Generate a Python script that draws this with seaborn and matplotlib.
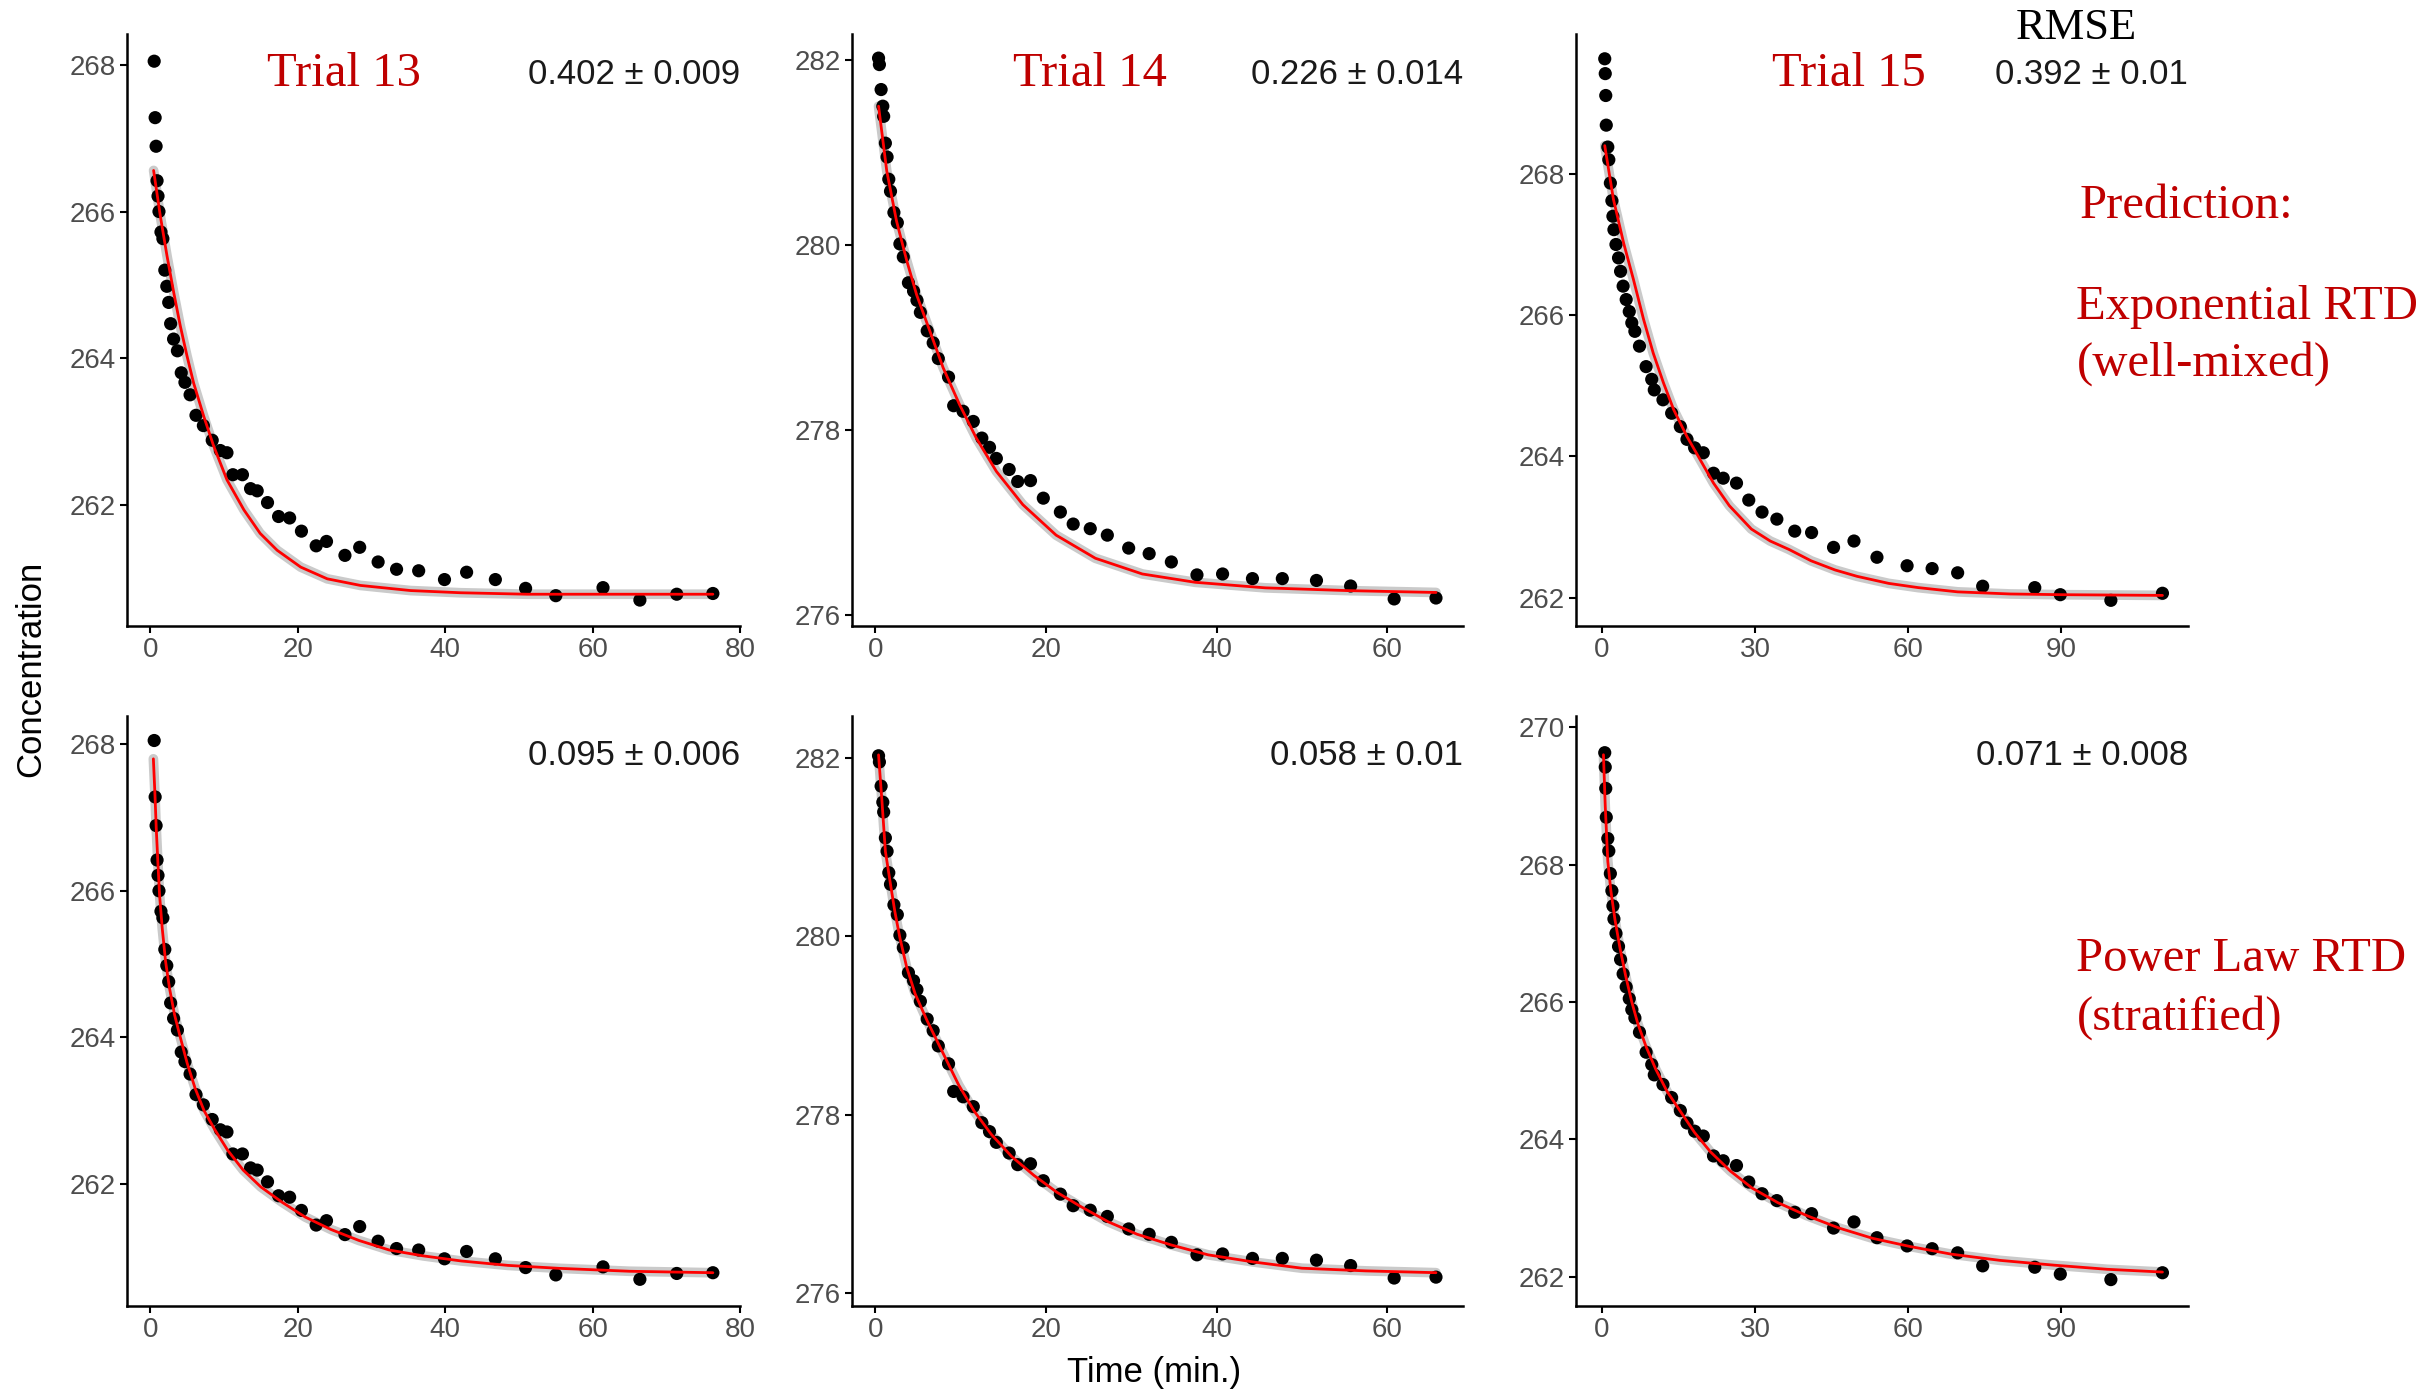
import matplotlib
matplotlib.use("Agg")
import matplotlib.pyplot as plt
import seaborn as sns
import pandas as pd

# ---------------- data ----------------
t13 = [0.53, 0.66, 0.79, 0.92, 1.05, 1.18, 1.45, 1.71, 1.97, 2.24, 2.5, 2.76, 3.16, 3.68, 4.2,
       4.7, 5.4, 6.2, 7.2, 8.4, 9.5, 10.4, 11.2, 12.5, 13.6, 14.5, 15.9, 17.4, 18.9, 20.5, 22.5,
       23.9, 26.4, 28.4, 30.9, 33.4, 36.4, 39.9, 42.9, 46.8, 50.9, 55.0, 61.4, 66.4, 71.4, 76.3]
c13 = [268.05, 267.28, 266.89, 266.42, 266.21, 266.00, 265.72, 265.63, 265.20, 264.98, 264.76,
       264.47, 264.26, 264.10, 263.80, 263.67, 263.50, 263.22, 263.08, 262.88, 262.74, 262.71,
       262.41, 262.41, 262.22, 262.19, 262.03, 261.84, 261.82, 261.64, 261.44, 261.50, 261.31,
       261.42, 261.22, 261.12, 261.10, 260.98, 261.08, 260.98, 260.86, 260.76, 260.87, 260.70,
       260.78, 260.79]

t14 = [0.4, 0.5, 0.7, 0.9, 1.0, 1.2, 1.4, 1.6, 1.8, 2.2, 2.6, 2.9, 3.3, 3.9, 4.5, 4.9, 5.3, 6.1,
       6.8, 7.4, 8.6, 9.2, 10.3, 11.5, 12.5, 13.4, 14.2, 15.7, 16.7, 18.2, 19.7, 21.7, 23.2, 25.2,
       27.2, 29.7, 32.1, 34.7, 37.7, 40.7, 44.2, 47.7, 51.7, 55.7, 60.8, 65.7]
c14 = [282.02, 281.95, 281.68, 281.50, 281.39, 281.10, 280.95, 280.71, 280.58, 280.35, 280.24,
       280.01, 279.87, 279.59, 279.50, 279.40, 279.27, 279.07, 278.94, 278.77, 278.57, 278.26,
       278.20, 278.09, 277.91, 277.81, 277.69, 277.57, 277.44, 277.45, 277.26, 277.11, 276.98,
       276.93, 276.86, 276.72, 276.66, 276.57, 276.43, 276.44, 276.39, 276.39, 276.37, 276.31,
       276.17, 276.18]

t15 = [0.6, 0.7, 0.8, 0.9, 1.2, 1.4, 1.7, 2.0, 2.2, 2.4, 2.8, 3.3, 3.7, 4.2, 4.8, 5.4, 5.9, 6.5,
       7.4, 8.7, 9.8, 10.3, 12.0, 13.7, 15.4, 16.7, 18.2, 19.9, 21.9, 23.8, 26.4, 28.8, 31.4,
       34.3, 37.8, 41.1, 45.4, 49.4, 53.9, 59.8, 64.7, 69.7, 74.6, 84.8, 89.8, 99.7, 109.8]
c15 = [269.63, 269.42, 269.11, 268.69, 268.38, 268.20, 267.87, 267.62, 267.40, 267.21, 267.00,
       266.81, 266.62, 266.41, 266.22, 266.05, 265.89, 265.77, 265.56, 265.27, 265.09, 264.94,
       264.80, 264.61, 264.42, 264.24, 264.12, 264.05, 263.76, 263.69, 263.62, 263.38, 263.21,
       263.11, 262.94, 262.92, 262.71, 262.80, 262.57, 262.45, 262.41, 262.35, 262.16, 262.14,
       262.04, 261.96, 262.06]

# exponential RTD prediction (top row)
e13_t = [0.45, 1.36, 2.26, 3.17, 4.07, 4.98, 5.88, 7.24, 8.6, 10.4, 12.7, 14.9, 17.2, 20.4,
         24.0, 28.5, 35.3, 42.1, 51.1, 64.0, 76.3]
e13_c = [266.56, 265.94, 265.40, 264.90, 264.44, 264.03, 263.66, 263.21, 262.80, 262.34, 261.93,
         261.61, 261.38, 261.15, 260.99, 260.90, 260.83, 260.80, 260.78, 260.78, 260.78]
e14_t = [0.4, 1.36, 2.5, 3.7, 4.86, 6.4, 7.97, 9.9, 11.85, 14.2, 17.3, 21.2, 25.8, 31.3, 37.5,
         45.7, 55.4, 65.7]
e14_c = [281.50, 280.80, 280.26, 279.83, 279.46, 279.07, 278.67, 278.27, 277.91, 277.55, 277.19,
         276.86, 276.61, 276.44, 276.35, 276.29, 276.26, 276.24]
e15_t = [0.6, 2.3, 4.3, 6.2, 8.2, 10.1, 12.1, 14.1, 16.7, 19.3, 21.9, 25.0, 29.3, 33.0, 36.7,
         41.0, 45.7, 50.0, 56.2, 62.0, 69.7, 80.0, 90.0, 109.8]
e15_c = [268.40, 267.64, 267.02, 266.51, 265.94, 265.46, 265.04, 264.66, 264.28, 263.95, 263.62,
         263.30, 262.97, 262.80, 262.68, 262.52, 262.39, 262.30, 262.20, 262.14, 262.08, 262.05,
         262.04, 262.03]

# power-law RTD prediction (bottom row)
p13_t = [0.42, 0.64, 0.81, 1.03, 1.26, 1.62, 2.07, 2.61, 3.29, 3.97, 5.0, 6.1, 7.3, 8.7, 10.5,
         12.6, 15.0, 17.9, 21.0, 24.5, 28.3, 32.4, 37.0, 42.2, 48.5, 55.4, 65.0, 76.3]
p13_c = [267.80, 267.30, 266.85, 266.39, 265.94, 265.49, 265.04, 264.67, 264.31, 264.04, 263.65,
         263.30, 263.00, 262.75, 262.46, 262.19, 261.96, 261.75, 261.55, 261.38, 261.23, 261.10,
         261.02, 260.95, 260.89, 260.85, 260.81, 260.79]
p14_t = [0.4, 0.8, 1.2, 1.8, 2.3, 2.9, 3.7, 4.7, 6.1, 8.0, 9.8, 11.6, 13.6, 16.0, 18.6, 21.3,
         24.1, 27.3, 30.7, 34.7, 39.0, 44.3, 50.0, 57.5, 65.7]
p14_c = [282.03, 281.51, 280.95, 280.58, 280.28, 279.98, 279.65, 279.35, 279.05, 278.68, 278.33,
         278.04, 277.78, 277.53, 277.32, 277.13, 276.97, 276.80, 276.66, 276.54, 276.43, 276.35,
         276.28, 276.25, 276.23]
p15_t = [0.35, 0.7, 1.2, 1.8, 2.6, 3.6, 4.7, 5.9, 7.1, 8.7, 10.6, 12.8, 15.4, 18.2, 21.3, 25.2,
         29.5, 34.5, 40.2, 46.5, 53.1, 60.5, 68.5, 78.0, 88.6, 99.0, 109.8]
p15_c = [269.60, 268.85, 268.05, 267.62, 267.20, 266.78, 266.38, 266.00, 265.68, 265.35, 265.02,
         264.70, 264.41, 264.10, 263.82, 263.54, 263.29, 263.08, 262.89, 262.71, 262.56, 262.44,
         262.33, 262.24, 262.17, 262.11, 262.07]

trials = ["Trial 13", "Trial 14", "Trial 15"]
rmse_exp = ["0.402 \u00b1 0.009", "0.226 \u00b1 0.014", "0.392 \u00b1 0.01"]
rmse_pow = ["0.095 \u00b1 0.006", "0.058 \u00b1 0.01", "0.071 \u00b1 0.008"]
xticks = [[0, 20, 40, 60, 80], [0, 20, 40, 60], [0, 30, 60, 90]]
yticks_top = [[262, 264, 266, 268], [276, 278, 280, 282], [262, 264, 266, 268]]
yticks_bot = [[262, 264, 266, 268], [276, 278, 280, 282], [262, 264, 266, 268, 270]]

# ---------------- figure ----------------
sns.set_theme(style="ticks")
plt.rcParams["font.family"] = ["Liberation Sans", "DejaVu Sans"]
serif = ["Liberation Serif", "DejaVu Serif"]

W, H = 1568.0, 900.0
fig = plt.figure(figsize=(24.28, 13.94), dpi=100)
fig.patch.set_facecolor("white")

lefts = [82, 550, 1018]
rights = [478, 945, 1413]
rows = [(22, 404), (462, 843)]
xlims = [(-3.16, 80.0), (-2.75, 68.9), (-4.96, 114.8)]
ylims_top = [(260.35, 268.42), (275.88, 282.28), (261.60, 269.98)]
ylims_bot = [(260.34, 268.39), (275.86, 282.47), (261.58, 270.17)]

obs = [(t13, c13), (t14, c14), (t15, c15)]
exp_fit = [(e13_t, e13_c), (e14_t, e14_c), (e15_t, e15_c)]
pow_fit = [(p13_t, p13_c), (p14_t, p14_c), (p15_t, p15_c)]

GREY30 = "#4D4D4D"
for r, (ytop, ybot) in enumerate(rows):
    for c in range(3):
        ax = fig.add_axes([lefts[c] / W, 1 - ybot / H, (rights[c] - lefts[c]) / W, (ybot - ytop) / H])
        ft, fc = (exp_fit if r == 0 else pow_fit)[c]
        fit_df = pd.DataFrame({"t": ft, "c": fc})
        ob_df = pd.DataFrame({"t": obs[c][0], "c": obs[c][1]})
        sns.lineplot(data=fit_df, x="t", y="c", ax=ax, color="#BDBDBD", linewidth=7,
                     alpha=0.8, estimator=None, sort=True, zorder=1)
        sns.scatterplot(data=ob_df, x="t", y="c", ax=ax, color="black", s=90,
                        edgecolor="none", zorder=2)
        sns.lineplot(data=fit_df, x="t", y="c", ax=ax, color="#FF0000", linewidth=2.0,
                     estimator=None, sort=True, zorder=3)
        ax.set_xlim(*xlims[c])
        ax.set_ylim(*(ylims_top if r == 0 else ylims_bot)[c])
        ax.set_xticks(xticks[c])
        ax.set_yticks((yticks_top if r == 0 else yticks_bot)[c])
        ax.set_xlabel("")
        ax.set_ylabel("")
        for s in ["top", "right"]:
            ax.spines[s].set_visible(False)
        for s in ["left", "bottom"]:
            ax.spines[s].set_linewidth(1.8)
            ax.spines[s].set_color("black")
        ax.tick_params(axis="both", labelsize=20, labelcolor=GREY30, color="black",
                       width=1.5, length=5, pad=3)
        ax.set_facecolor("white")
        ax.text(1.0, 0.932, (rmse_exp if r == 0 else rmse_pow)[c], transform=ax.transAxes,
                ha="right", va="center", fontsize=25, color="#1A1A1A")

# trial titles
trial_x = [222, 704, 1194]
for c in range(3):
    fig.text(trial_x[c] / W, 1 - 48 / H, trials[c], ha="center", va="center",
             fontsize=35, color="#BF0000", family=serif)

fig.text(1341 / W, 1 - 18 / H, "RMSE", ha="center", va="center", fontsize=32,
         color="black", family=serif)
fig.text(1343 / W, 1 - 133 / H, "Prediction:", ha="left", va="center", fontsize=35,
         color="#BF0000", family=serif)
fig.text(1341 / W, 1 - 198 / H, "Exponential RTD", ha="left", va="center", fontsize=35,
         color="#BF0000", family=serif)
fig.text(1341 / W, 1 - 235 / H, "(well-mixed)", ha="left", va="center", fontsize=35,
         color="#BF0000", family=serif)
fig.text(1341 / W, 1 - 619 / H, "Power Law RTD", ha="left", va="center", fontsize=35,
         color="#BF0000", family=serif)
fig.text(1341 / W, 1 - 657 / H, "(stratified)", ha="left", va="center", fontsize=35,
         color="#BF0000", family=serif)

fig.text(20 / W, 1 - 432 / H, "Concentration", rotation=90, ha="center", va="center",
         fontsize=25, color="black")
fig.text(745 / W, 1 - 886 / H, "Time (min.)", ha="center", va="center", fontsize=25,
         color="black")

fig.savefig("out.png", dpi=100, facecolor="white")
